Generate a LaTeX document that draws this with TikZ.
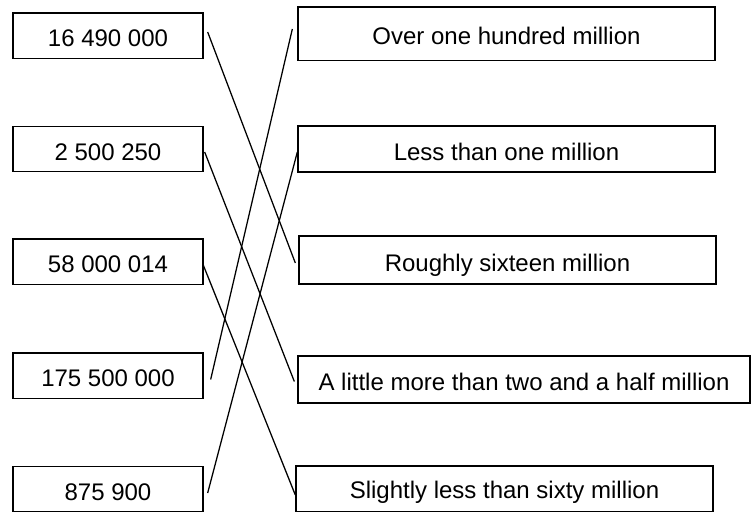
\documentclass[tikz,border=0pt]{standalone}
\usepackage{fontspec}
\setmainfont{Liberation Sans}
\usetikzlibrary{math}

\begin{document}
\begin{tikzpicture}[x=0.75pt,y=-0.75pt,
    box/.style={draw,line width=1pt,inner sep=0pt,
      font=\fontsize{18}{21}\selectfont,text height=17pt,text depth=0pt},
    numbox/.style={box,minimum width=142.5pt,minimum height=34pt},
    wordbox/.style={box,minimum width=312.75pt},
    link/.style={line width=0.95pt}]
    \useasboundingbox (0,0) rectangle (751,512);
    % The numbers
    \tikzmath{\xl=108;}
    \node[numbox] (n1) at (\xl,35.5) {16 490 000};
    \node[numbox] (n2) at (\xl,149) {2 500 250};
    \node[numbox] (n3) at (\xl,261.5) {58 000 014};
    \node[numbox] (n4) at (\xl,375.5) {175 500 000};
    \node[numbox] (n5) at (\xl,489) {875 900};
    % The words
    \node[wordbox,minimum height=40pt] (w1) at (506.5,33.5) {Over one hundred million};
    \node[wordbox,minimum height=34.5pt] (w2) at (506.5,149) {Less than one million};
    \node[wordbox,minimum height=36pt] (w3) at (507.5,260) {Roughly sixteen million};
    \node[box,minimum width=339pt,minimum height=35.25pt] (w4) at (524,379.5)
      {A little more than two and a half million};
    \node[wordbox,minimum height=34pt,text height=15pt] (w5) at (504.5,488.5)
      {Slightly less than sixty million};
    % The matching lines
    \draw[link] ([shift={(4,-3.5)}]n1.east) -- ([shift={(-3,3)}]w3.west);
    \draw[link] ([shift={(1,3)}]n2.east) -- ([shift={(-3,2)}]w4.west);
    \draw[link] ([shift={(-1,2)}]n3.east) -- ([shift={(0,6.5)}]w5.west);
    \draw[link] ([shift={(7,4)}]n4.east) -- ([shift={(-5,-4.5)}]w1.west);
    \draw[link] ([shift={(4,4)}]n5.east) -- ([shift={(0,3)}]w2.west);
\end{tikzpicture}
\end{document}
